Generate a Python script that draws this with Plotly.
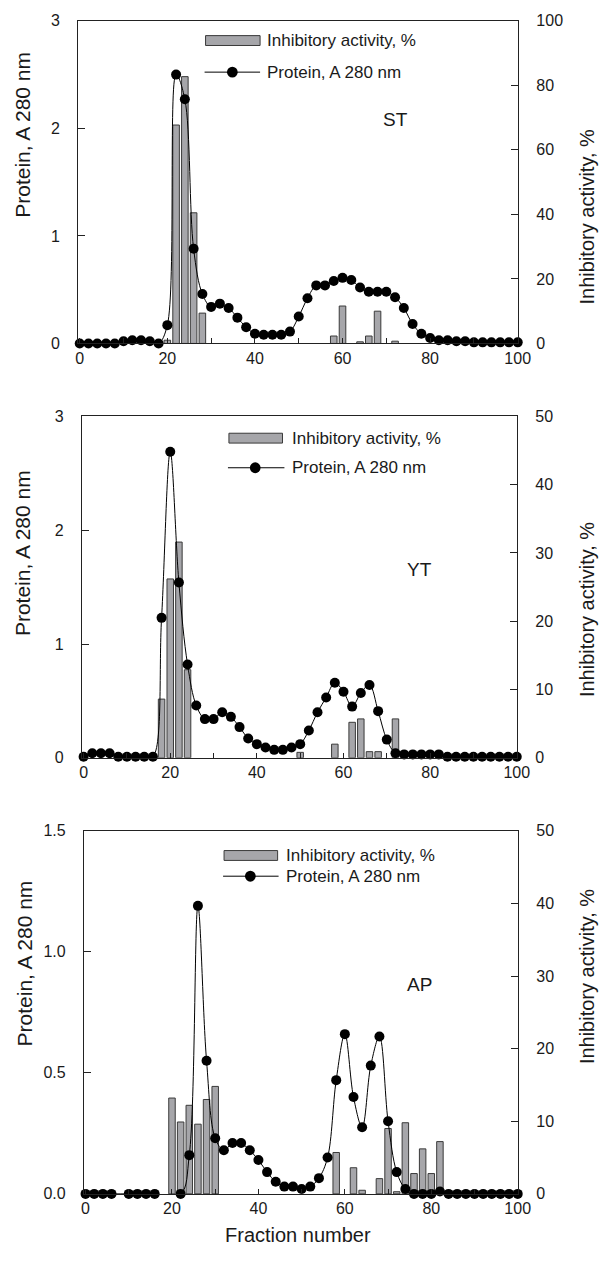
import plotly.graph_objects as go

# ---------------- data ----------------
fractions = [0, 2, 4, 6, 8, 10, 12, 14, 16, 18, 20, 22, 24, 26, 28, 30, 32, 34, 36, 38, 40,
             42, 44, 46, 48, 50, 52, 54, 56, 58, 60, 62, 64, 66, 68, 70, 72, 74, 76, 78, 80,
             82, 84, 86, 88, 90, 92, 94, 96, 98, 100]

st_protein = [0.0, 0.0, 0.0, 0.0, 0.0, 0.02, 0.03, 0.03, 0.02, 0.0, 0.17, 2.50, 2.27, 0.88,
              0.46, 0.34, 0.37, 0.33, 0.24, 0.15, 0.09, 0.08, 0.08, 0.08, 0.11, 0.25, 0.42,
              0.54, 0.54, 0.58, 0.61, 0.59, 0.52, 0.48, 0.48, 0.48, 0.43, 0.33, 0.18, 0.09,
              0.05, 0.03, 0.03, 0.02, 0.02, 0.01, 0.01, 0.01, 0.01, 0.01, 0.01]
st_act_frac = [20, 22, 24, 26, 28, 58, 60, 64, 66, 68, 72]
st_activity = [1.0, 67.7, 82.7, 40.5, 9.4, 2.3, 11.6, 0.5, 2.3, 10.0, 0.7]

yt_protein = [0.01, 0.04, 0.04, 0.04, 0.01, 0.01, 0.01, 0.01, 0.01, 1.23, 2.69, 1.54, 0.82,
              0.46, 0.34, 0.34, 0.40, 0.36, 0.27, 0.17, 0.12, 0.09, 0.07, 0.07, 0.09, 0.12,
              0.24, 0.40, 0.53, 0.66, 0.58, 0.45, 0.57, 0.64, 0.41, 0.16, 0.04, 0.03, 0.03,
              0.03, 0.03, 0.03, 0.01, 0.01, 0.01, 0.01, 0.01, 0.01, 0.01, 0.01, 0.01]
yt_act_frac = [18, 20, 22, 24, 50, 58, 62, 64, 66, 68, 72]
yt_activity = [8.6, 26.2, 31.6, 12.9, 0.8, 2.0, 5.2, 5.7, 0.9, 0.9, 5.7]

ap_protein = [0.0, 0.0, 0.0, 0.0, None, 0.0, 0.0, 0.0, 0.0, None, None, 0.0, 0.16, 1.19,
              0.55, 0.23, 0.18, 0.21, 0.21, 0.18, 0.14, 0.09, 0.05, 0.03, 0.03, 0.02, 0.03,
              0.065, 0.15, 0.47, 0.66, 0.40, 0.275, 0.53, 0.65, 0.30, 0.09, 0.02, 0.0, 0.0,
              0.0, 0.01, 0.0, 0.0, 0.0, 0.0, 0.0, 0.0, 0.0, 0.0, 0.0]
ap_act_frac = [20, 22, 24, 26, 28, 30, 58, 62, 64, 68, 70, 72, 74, 76, 78, 80, 82]
ap_activity = [13.2, 9.9, 12.2, 9.6, 13.0, 14.8, 5.7, 3.6, 0.5, 2.1, 9.0, 0.3, 9.8, 2.8,
               6.2, 2.8, 7.2]

panel_names = ["ST", "YT", "AP"]
protein_series = [st_protein, yt_protein, ap_protein]
act_fracs = [st_act_frac, yt_act_frac, ap_act_frac]
act_series = [st_activity, yt_activity, ap_activity]
legend_bar_label = "Inhibitory activity, %"
legend_line_label = "Protein, A 280 nm"
left_title = "Protein, A 280 nm"
right_title = "Inhibitory activity, %"
x_title = "Fraction number"

# ---------------- layout helpers ----------------
W, H = 611, 1268
FONT = "Liberation Sans, Arial, sans-serif"
TXT = "#1a1a1a"
BAR_FILL = "#a6a6aa"
BAR_LINE = "#3a3a3a"


def fx(p):
    return p / W


def fy(p):
    return 1 - p / H


# plot-area pixel boxes: (left, right, top, bottom)
boxes = [(77, 529, 13, 340), (81, 528, 414, 760), (83, 529, 834, 1202)]
prot_ranges = [[0, 3], [0, 3], [0, 1.5]]
prot_dtick = [1, 1, 0.5]
prot_fmt = ["d", "d", ".1f"]
act_ranges = [[0, 100], [0, 50], [0, 50]]
act_dtick = [20, 10, 10]
panel_label_pos = [(403, 113), (428, 569), (428, 990)]
left_title_pos = [(20, 128), (20, 552), (22, 968)]
right_title_pos = [(600, 212), (600, 610), (600, 982)]
legend_geo = [
    dict(rx0=208, rx1=264, ry0=28, ry1=38, tx=269, ty1=33, lx0=207, lx1=264, ly=65, mx=235.5),
    dict(rx0=232, rx1=287, ry0=431, ry1=441, tx=295, ty1=436, lx0=231, lx1=289, ly=466, mx=259),
    dict(rx0=227, rx1=282, ry0=854, ry1=864, tx=289, ty1=859, lx0=226, lx1=283, ly=880, mx=254),
]

fig = go.Figure()
layout = dict(
    width=W, height=H,
    margin=dict(l=0, r=0, t=0, b=0),
    paper_bgcolor="white", plot_bgcolor="rgba(0,0,0,0)",
    showlegend=False,
    font=dict(family=FONT, color=TXT, size=16),
)
annotations = []
shapes = []

x_tickvals = [0, 10, 20, 30, 40, 50, 60, 70, 80, 90, 100]
x_ticktext = ["0", "", "20", "", "40", "", "60", "", "80", "", "100"]

for i in range(3):
    n = i + 1
    xa = "x" if n == 1 else f"x{n}"
    ya_bar = "y" if n == 1 else f"y{2 * n - 1}"
    ya_prot = f"y{2 * n}"
    xkey = "xaxis" if n == 1 else f"xaxis{n}"
    ykey_bar = "yaxis" if n == 1 else f"yaxis{2 * n - 1}"
    ykey_prot = f"yaxis{2 * n}"
    l, r, t, b = boxes[i]

    fig.add_trace(go.Bar(
        x=act_fracs[i], y=act_series[i], width=1.5,
        marker=dict(color=BAR_FILL, line=dict(color=BAR_LINE, width=1)),
        xaxis=xa, yaxis=ya_bar, name=legend_bar_label,
    ))
    fig.add_trace(go.Scatter(
        x=fractions, y=protein_series[i], mode="lines+markers",
        line=dict(color="black", width=1, shape="spline", smoothing=1.0),
        marker=dict(color="black", size=10),
        connectgaps=True, cliponaxis=False,
        xaxis=xa, yaxis=ya_prot, name=legend_line_label,
    ))

    layout[xkey] = dict(
        domain=[fx(l), fx(r)], anchor=ya_bar, range=[-0.4, 100.1],
        tickvals=x_tickvals, ticktext=x_ticktext,
        ticks="inside", ticklen=5, tickcolor="#222", tickwidth=1,
        showline=True, linecolor="#222", linewidth=1, mirror=True,
        showgrid=False, zeroline=False, ticklabelstandoff=0,
        tickfont=dict(size=16, family=FONT, color=TXT),
    )
    layout[ykey_bar] = dict(
        domain=[fy(b), fy(t)], anchor=xa, side="right", range=act_ranges[i],
        dtick=act_dtick[i], tick0=0,
        ticks="inside", ticklen=7, tickcolor="#222", tickwidth=1,
        showline=True, linecolor="#222", linewidth=1,
        showgrid=False, zeroline=False, ticklabelstandoff=14,
        tickfont=dict(size=16, family=FONT, color=TXT),
    )
    layout[ykey_prot] = dict(
        overlaying=ya_bar, anchor=xa, side="left", range=prot_ranges[i],
        dtick=prot_dtick[i], tick0=0, tickformat=prot_fmt[i],
        ticks="inside", ticklen=7, tickcolor="#222", tickwidth=1,
        showline=True, linecolor="#222", linewidth=1,
        showgrid=False, zeroline=False, ticklabelstandoff=14,
        tickfont=dict(size=16, family=FONT, color=TXT),
    )

    lx, ly = left_title_pos[i]
    annotations.append(dict(text=left_title, x=fx(lx), y=fy(ly), xref="paper", yref="paper",
                            showarrow=False, textangle=-90, xanchor="center", yanchor="middle",
                            font=dict(size=21, family=FONT, color=TXT)))
    rx, ry = right_title_pos[i]
    annotations.append(dict(text=right_title, x=fx(rx), y=fy(ry), xref="paper", yref="paper",
                            showarrow=False, textangle=-90, xanchor="center", yanchor="middle",
                            font=dict(size=20, family=FONT, color=TXT)))
    px, py = panel_label_pos[i]
    annotations.append(dict(text=panel_names[i], x=fx(px), y=fy(py), xref="paper", yref="paper",
                            showarrow=False, xanchor="center", yanchor="middle",
                            font=dict(size=19, family=FONT, color=TXT)))
    g = legend_geo[i]
    shapes.append(dict(type="rect", xref="paper", yref="paper",
                       x0=fx(g["rx0"]), x1=fx(g["rx1"]), y0=fy(g["ry1"]), y1=fy(g["ry0"]),
                       fillcolor=BAR_FILL, line=dict(color=BAR_LINE, width=1)))
    shapes.append(dict(type="line", xref="paper", yref="paper",
                       x0=fx(g["lx0"]), x1=fx(g["lx1"]), y0=fy(g["ly"]), y1=fy(g["ly"]),
                       line=dict(color="black", width=1)))
    shapes.append(dict(type="circle", xref="paper", yref="paper",
                       x0=fx(g["mx"] - 5.5), x1=fx(g["mx"] + 5.5),
                       y0=fy(g["ly"] + 5.5), y1=fy(g["ly"] - 5.5),
                       fillcolor="black", line=dict(color="black", width=0)))
    annotations.append(dict(text=legend_bar_label, x=fx(g["tx"]), y=fy(g["ty1"]),
                            xref="paper", yref="paper", showarrow=False,
                            xanchor="left", yanchor="middle",
                            font=dict(size=17, family=FONT, color=TXT)))
    annotations.append(dict(text=legend_line_label, x=fx(g["tx"]), y=fy(g["ly"]),
                            xref="paper", yref="paper", showarrow=False,
                            xanchor="left", yanchor="middle",
                            font=dict(size=17, family=FONT, color=TXT)))

annotations.append(dict(text=x_title, x=fx(303), y=fy(1244), xref="paper", yref="paper",
                        showarrow=False, xanchor="center", yanchor="middle",
                        font=dict(size=20, family=FONT, color=TXT)))

layout["annotations"] = annotations
layout["shapes"] = shapes
fig.update_layout(**layout)

# remove the default 8px page margin so the figure sits at the window origin
fig.write_html("out.html", config={"displayModeBar": False},
               post_script="document.body.style.margin='0';")
